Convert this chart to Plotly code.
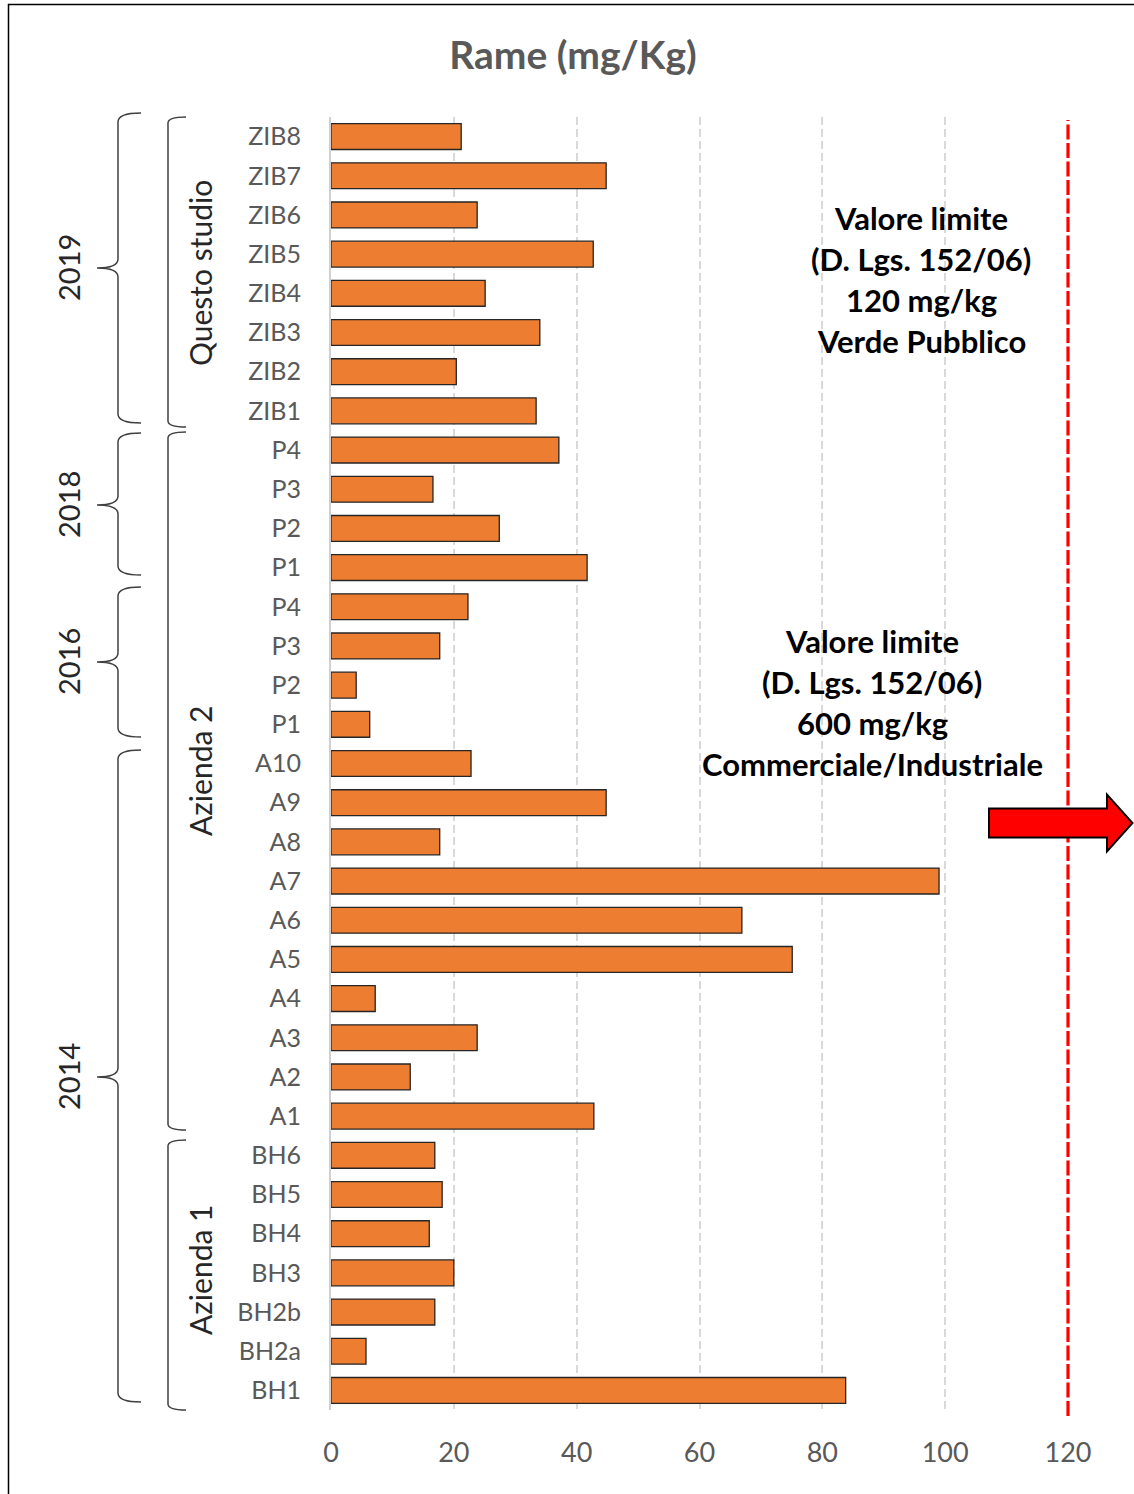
import plotly.graph_objects as go

# ---------------- data ----------------
labels = ["ZIB8", "ZIB7", "ZIB6", "ZIB5", "ZIB4", "ZIB3", "ZIB2", "ZIB1",
          "P4", "P3", "P2", "P1",
          "P4", "P3", "P2", "P1",
          "A10", "A9", "A8", "A7", "A6", "A5", "A4", "A3", "A2", "A1",
          "BH6", "BH5", "BH4", "BH3", "BH2b", "BH2a", "BH1"]
values = [21.2, 44.8, 23.8, 42.7, 25.1, 34.0, 20.4, 33.4,
          37.1, 16.6, 27.4, 41.7,
          22.3, 17.7, 4.1, 6.3,
          22.8, 44.8, 17.7, 99.0, 66.9, 75.1, 7.2, 23.8, 12.9, 42.8,
          16.9, 18.1, 16.0, 20.0, 16.9, 5.7, 83.8]
x_ticks = [0, 20, 40, 60, 80, 100, 120]
limit_value = 120
title_text = "Rame (mg/Kg)"
note1_lines = ["Valore limite", "(D. Lgs. 152/06)", "120 mg/kg", "Verde Pubblico"]
note2_lines = ["Valore limite", "(D. Lgs. 152/06)", "600 mg/kg", "Commerciale/Industriale"]
year_groups = ["2019", "2018", "2016", "2014"]
site_groups = ["Questo studio", "Azienda 2", "Azienda 1"]

positions = list(range(len(labels)))

# ---------------- layout geometry (screen pixels) ----------------
W_PX, H_PX = 1134, 1494
L, R, T, B = 331, 1068, 117, 1410


def px(x):
    return (x - L) / (R - L)


def py(y):
    return (B - y) / (B - T)


FONT = "Lato"
GRAY = "#595959"
DARK = "#262626"

fig = go.Figure()
fig.add_trace(go.Bar(
    x=values, y=positions, orientation="h",
    marker=dict(color="#ED7D31", line=dict(color="#262626", width=1.3)),
    hoverinfo="x+text", text=labels, textposition="none",
))

shapes = []

# border of the picture (only top/left visible)
shapes.append(dict(type="rect", xref="paper", yref="paper",
                   x0=px(8.5), x1=px(1300), y0=py(4.5), y1=py(1700),
                   line=dict(color="#000000", width=1.5), layer="below"))

# red dashed limit line at x=120
xr = (limit_value - 0) / (120 - 0)
shapes.append(dict(type="line", xref="paper", yref="paper",
                   x0=xr, x1=xr, y0=py(1416), y1=py(120),
                   line=dict(color="#FF0000", width=3.2, dash="15px,3.5px")))

# red arrow
ax0, axh, ax1 = 989, 1107, 1134
ayc, abh, ahh = 823, 14.5, 28.5


def P(x, y):
    return f"{px(x):.5f},{py(y):.5f}"


arrow_path = ("M " + P(ax0, ayc - abh) + " L " + P(axh, ayc - abh) + " L " + P(axh, ayc - ahh) +
              " L " + P(ax1 - 1.5, ayc) + " L " + P(axh, ayc + ahh) + " L " + P(axh, ayc + abh) +
              " L " + P(ax0, ayc + abh) + " Z")
shapes.append(dict(type="path", xref="paper", yref="paper", path=arrow_path,
                   fillcolor="#FF0000", line=dict(color="#000000", width=2)))


def curly(y0, y1, ym, xr=141, xv=118, xt=97, r=9):
    return ("M " + P(xr, y0) + " Q " + P(xv, y0) + " " + P(xv, y0 + r) +
            " L " + P(xv, ym - r) + " Q " + P(xv, ym) + " " + P(xt, ym) +
            " Q " + P(xv, ym) + " " + P(xv, ym + r) +
            " L " + P(xv, y1 - r) + " Q " + P(xv, y1) + " " + P(xr, y1))


def square(y0, y1, xr=186, xv=168, r=6):
    return ("M " + P(xr, y0) + " Q " + P(xv, y0) + " " + P(xv, y0 + r) +
            " L " + P(xv, y1 - r) + " Q " + P(xv, y1) + " " + P(xr, y1))


year_spans = [(113, 423, 268), (433, 575, 505), (587, 737, 662), (750, 1402, 1077)]
site_spans = [(117, 427, 273), (432, 1130, 771), (1140, 1410, 1270)]

for (y0, y1, ym) in year_spans:
    shapes.append(dict(type="path", xref="paper", yref="paper", path=curly(y0, y1, ym),
                       line=dict(color="#404040", width=1.5)))
for (y0, y1, ym) in site_spans:
    shapes.append(dict(type="path", xref="paper", yref="paper", path=square(y0, y1),
                       line=dict(color="#404040", width=1.5)))

annotations = []
for name, (y0, y1, ym) in zip(year_groups, year_spans):
    annotations.append(dict(xref="paper", yref="paper", x=px(68), y=py(ym), text=name,
                            showarrow=False, textangle=-90,
                            font=dict(family=FONT, size=29, color=DARK),
                            xanchor="center", yanchor="middle"))
for name, (y0, y1, ym) in zip(site_groups, site_spans):
    annotations.append(dict(xref="paper", yref="paper", x=px(200), y=py(ym), text=name,
                            showarrow=False, textangle=-90,
                            font=dict(family=FONT, size=30, color=DARK),
                            xanchor="center", yanchor="middle"))

for i, line in enumerate(note1_lines):
    annotations.append(dict(xref="paper", yref="paper", x=px(921), y=py(218 + 41 * i),
                            text=line, showarrow=False,
                            font=dict(family=FONT, size=31, color="#000000", weight="bold"),
                            xanchor="center", yanchor="middle"))
for i, line in enumerate(note2_lines):
    annotations.append(dict(xref="paper", yref="paper", x=px(872), y=py(641 + 41 * i),
                            text=line, showarrow=False,
                            font=dict(family=FONT, size=31, color="#000000", weight="bold"),
                            xanchor="center", yanchor="middle"))

fig.update_layout(
    width=W_PX, height=H_PX,
    margin=dict(l=L, r=W_PX - R, t=T, b=H_PX - B, pad=0),
    paper_bgcolor="white", plot_bgcolor="white",
    showlegend=False, bargap=0.34,
    font=dict(family=FONT, color=GRAY),
    title=dict(text=title_text, x=px(573), xref="paper", xanchor="center",
               y=1 - 55 / H_PX, yref="container", yanchor="middle",
               font=dict(family=FONT, size=39, color=GRAY, weight="bold")),
    xaxis=dict(range=[0, 120], tickvals=x_ticks, ticktext=[str(v) for v in x_ticks],
               showgrid=True, gridcolor="#D9D9D9", griddash="8px,4px", gridwidth=2,
               zeroline=False, showline=False, ticks="",
               tickfont=dict(family=FONT, size=27, color=GRAY),
               ticklabelstandoff=24, fixedrange=True),
    yaxis=dict(range=[len(labels) - 0.5, -0.5], tickvals=positions, ticktext=labels,
               showgrid=False, zeroline=False, showline=True, linecolor="#D0D0D0",
               linewidth=2, ticks="",
               tickfont=dict(family=FONT, size=25, color=GRAY),
               ticklabelstandoff=23, fixedrange=True),
    shapes=shapes, annotations=annotations,
)

fig.write_html("out.html", config={"displayModeBar": False},
               post_script="document.body.style.margin='0';document.body.style.overflow='hidden';")
